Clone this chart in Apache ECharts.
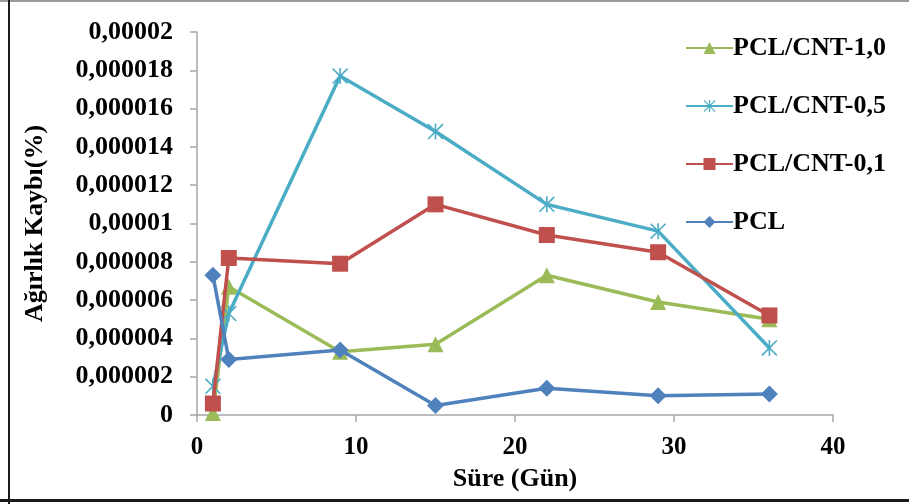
<!DOCTYPE html>
<html>
<head>
<meta charset="utf-8">
<script src="https://cdn.jsdelivr.net/npm/echarts@6/dist/echarts.min.js"></script>
<style>
  html, body { margin: 0; padding: 0; background: #ffffff; }
  #chart { width: 909px; height: 504px; }
</style>
</head>
<body>
<div id="chart"></div>
<script>
// Weight loss (%) over time (days) for PCL and PCL/CNT composites
const days = [1, 2, 9, 15, 22, 29, 36];

const pclCnt10 = [0.0000001, 0.0000067, 0.0000033, 0.0000037, 0.0000073, 0.0000059, 0.0000050];
const pclCnt05 = [0.0000015, 0.0000053, 0.0000177, 0.0000148, 0.0000110, 0.0000096, 0.0000035];
const pclCnt01 = [0.0000006, 0.0000082, 0.0000079, 0.0000110, 0.0000094, 0.0000085, 0.0000052];
const pcl      = [0.0000073, 0.0000029, 0.0000034, 0.0000005, 0.0000014, 0.0000010, 0.0000011];

const seriesNames = ['PCL/CNT-1,0', 'PCL/CNT-0,5', 'PCL/CNT-0,1', 'PCL'];

const yTickLabels = ['0', '0,000002', '0,000004', '0,000006', '0,000008', '0,00001',
  '0,000012', '0,000014', '0,000016', '0,000018', '0,00002'];
const xTickLabels = ['0', '10', '20', '30', '40'];

const Y_STEP = 0.000002;
const X_STEP = 10;

const FONT = "'Liberation Serif', 'Times New Roman', serif";

// asterisk marker: an X crossed by a vertical bar
const starSymbol = 'path://M9,0 L11,0 L11,20 L9,20 Z M0,1.4 L1.4,0 L20,18.6 L18.6,20 Z M18.6,0 L20,1.4 L1.4,20 L0,18.6 Z';

function pairs(values) {
  return days.map((d, i) => [d, values[i]]);
}

function lineSeries(name, values, color, symbol, size, z) {
  return {
    name: name,
    type: 'line',
    data: pairs(values),
    symbol: symbol,
    symbolSize: size,
    showAllSymbol: true,
    z: z,
    lineStyle: { color: color, width: 3.5 },
    itemStyle: { color: color },
    emphasis: { disabled: true }
  };
}

const chart = echarts.init(document.getElementById('chart'), null, { renderer: 'canvas' });

chart.setOption({
  animation: false,
  backgroundColor: '#ffffff',
  textStyle: { fontFamily: FONT },
  grid: { left: 197, top: 32, right: 76, bottom: 89, containLabel: false },
  legend: {
    orient: 'vertical',
    left: 680,
    top: 30,
    itemWidth: 47,
    itemHeight: 15,
    itemGap: 32,
    data: seriesNames,
    textStyle: { fontFamily: FONT, fontWeight: 'bold', fontSize: 26, color: '#000000', padding: [0, 0, 0, -5] },
    selectedMode: false
  },
  xAxis: {
    type: 'value',
    min: 0,
    max: 40,
    interval: X_STEP,
    name: 'Süre (Gün)',
    nameLocation: 'middle',
    nameGap: 51,
    nameTextStyle: { fontFamily: FONT, fontWeight: 'bold', fontSize: 26, color: '#000000' },
    axisLine: { show: true, lineStyle: { color: '#A6A6A6', width: 1.5 } },
    axisTick: { show: true, length: 7, lineStyle: { color: '#A6A6A6', width: 1.5 } },
    splitLine: { show: false },
    axisLabel: {
      margin: 20,
      fontFamily: FONT, fontWeight: 'bold', fontSize: 25, color: '#000000',
      formatter: v => xTickLabels[Math.round(v / X_STEP)]
    }
  },
  yAxis: {
    type: 'value',
    min: 0,
    max: 0.00002,
    interval: Y_STEP,
    name: 'Ağırlık Kaybı(%)',
    nameLocation: 'middle',
    nameGap: 149,
    nameRotate: 90,
    nameTextStyle: { fontFamily: FONT, fontWeight: 'bold', fontSize: 26, color: '#000000' },
    axisLine: { show: true, lineStyle: { color: '#A6A6A6', width: 1.5 } },
    axisTick: { show: true, length: 7, lineStyle: { color: '#A6A6A6', width: 1.5 } },
    splitLine: { show: false },
    axisLabel: {
      margin: 24,
      fontFamily: FONT, fontWeight: 'bold', fontSize: 26, color: '#000000',
      formatter: v => yTickLabels[Math.round(v / Y_STEP)]
    }
  },
  series: [
    lineSeries(seriesNames[0], pclCnt10, '#9BBB59', 'triangle', 16, 2),
    lineSeries(seriesNames[1], pclCnt05, '#4BACC6', starSymbol, 16, 3),
    lineSeries(seriesNames[2], pclCnt01, '#C0504D', 'rect', 16, 4),
    lineSeries(seriesNames[3], pcl, '#4F81BD', 'diamond', 17, 5)
  ],
  graphic: [
    { type: 'line', shape: { x1: 0, y1: 1, x2: 909, y2: 1 }, style: { stroke: '#9a9a9a', lineWidth: 2 }, silent: true },
    { type: 'line', shape: { x1: 9, y1: 0, x2: 9, y2: 504 }, style: { stroke: '#1a1a1a', lineWidth: 2 }, silent: true },
    { type: 'line', shape: { x1: 0, y1: 500.5, x2: 909, y2: 500.5 }, style: { stroke: '#1a1a1a', lineWidth: 3 }, silent: true }
  ]
});
</script>
</body>
</html>
